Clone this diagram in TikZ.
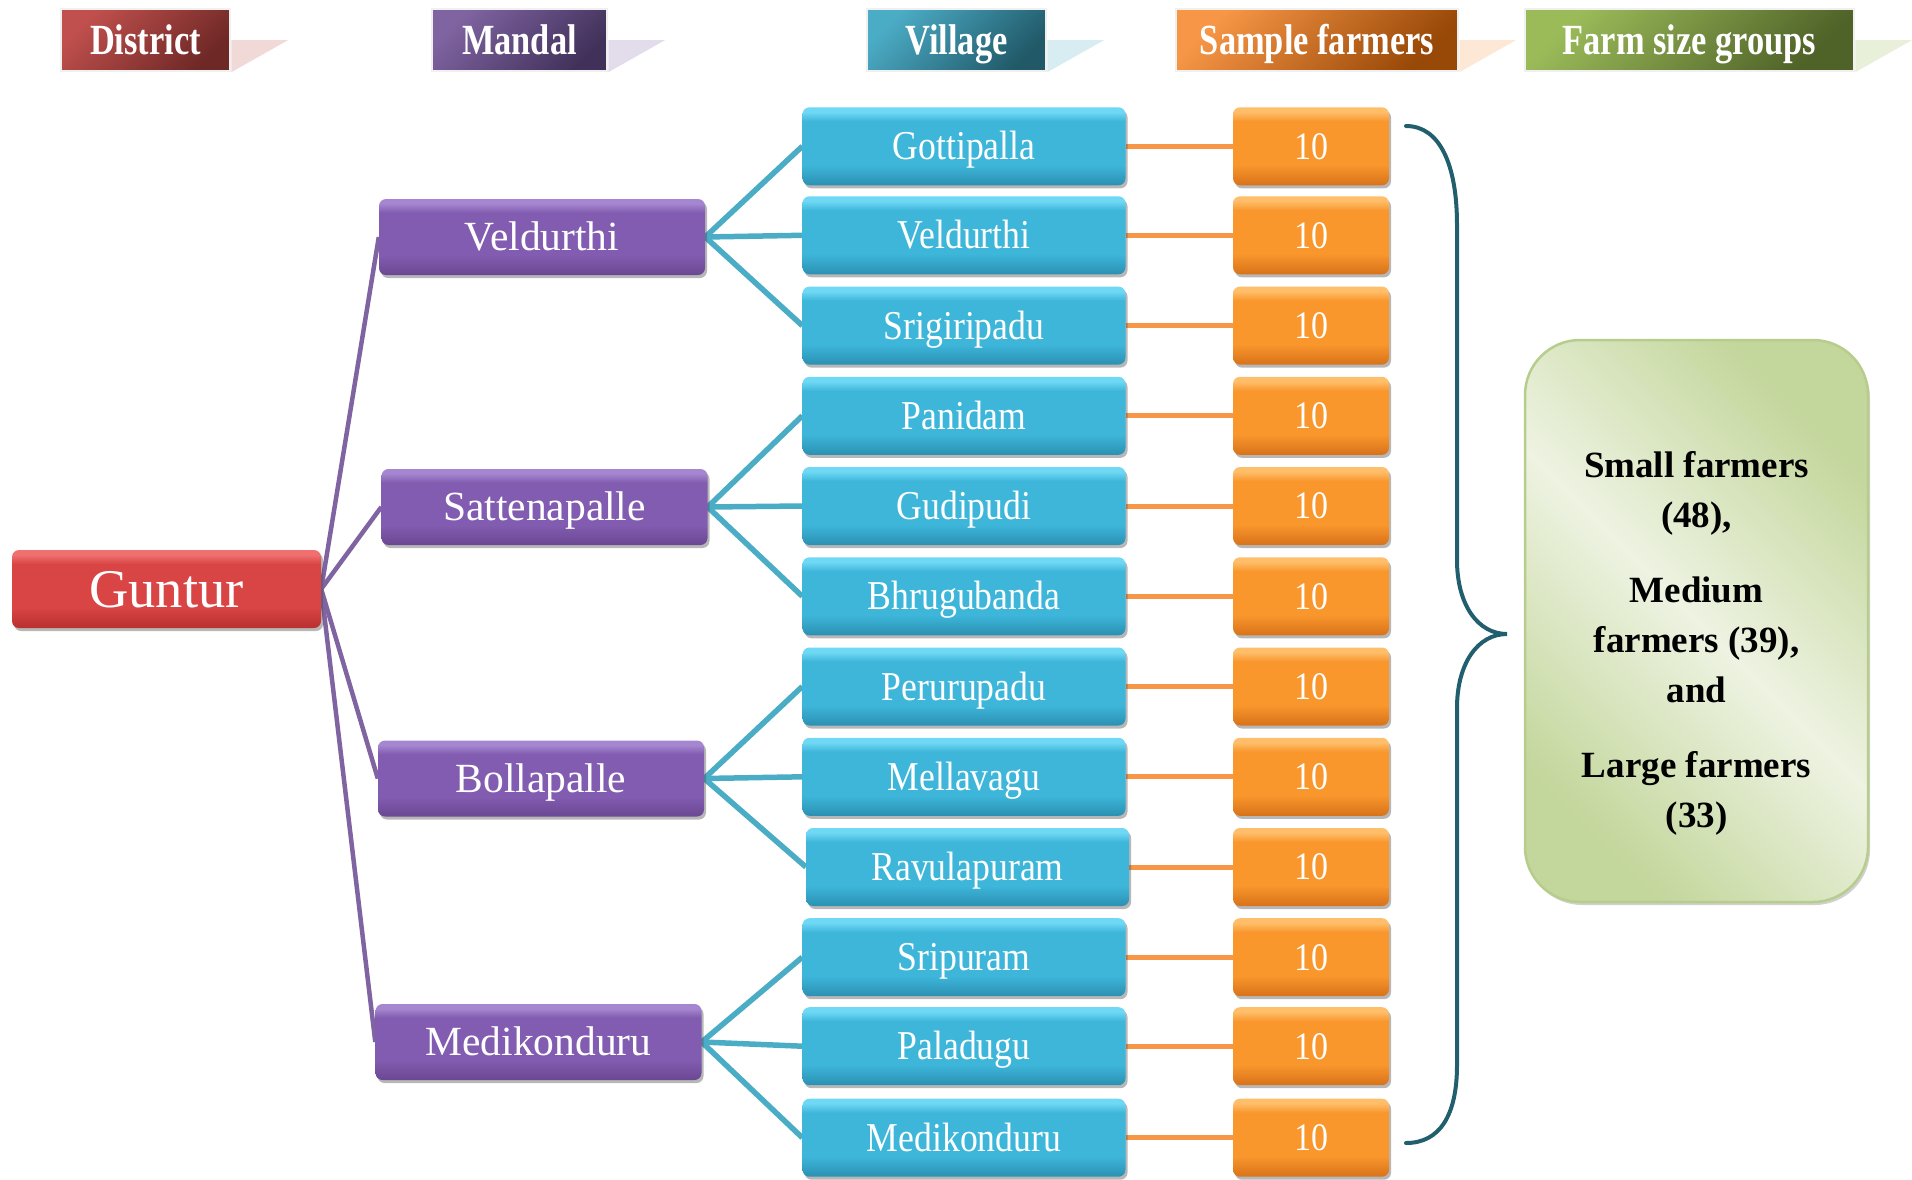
\documentclass[tikz,border=0pt]{standalone}
\usepackage{fontspec}
\setmainfont{Liberation Serif}
\newfontfamily\tallfont[FakeStretch=0.87]{Liberation Serif}
\newfontfamily\hdfont[FakeStretch=0.8]{Liberation Serif}
\usetikzlibrary{shadows,backgrounds,calc}
\definecolor{redT}{HTML}{F07070}\definecolor{redM}{HTML}{D94444}\definecolor{redB}{HTML}{B8302E}
\definecolor{purT}{HTML}{A586D0}\definecolor{purM}{HTML}{825CB0}\definecolor{purB}{HTML}{6A4792}
\definecolor{cyT}{HTML}{6FD8F4}\definecolor{cyM}{HTML}{3DB6DA}\definecolor{cyB}{HTML}{2B90B2}
\definecolor{orT}{HTML}{FFBE6A}\definecolor{orM}{HTML}{F9962C}\definecolor{orB}{HTML}{D8721A}
\definecolor{hRedA}{HTML}{C0504D}\definecolor{hRedB}{HTML}{6E2826}
\definecolor{hPurA}{HTML}{8064A2}\definecolor{hPurB}{HTML}{41315A}
\definecolor{hCyA}{HTML}{4BACC6}\definecolor{hCyB}{HTML}{215968}
\definecolor{hOrA}{HTML}{F79646}\definecolor{hOrB}{HTML}{984807}
\definecolor{hGrA}{HTML}{9BBB59}\definecolor{hGrB}{HTML}{4F6228}
\definecolor{gDark}{HTML}{C3D69B}\definecolor{gLight}{HTML}{EEF3E2}\definecolor{gEdge}{HTML}{B7CD8C}
\definecolor{lnPur}{HTML}{8064A2}\definecolor{lnCy}{HTML}{4BACC6}\definecolor{lnOr}{HTML}{F79646}
\definecolor{braceC}{HTML}{215F6E}
\newcommand\mkgloss[4]{\pgfdeclareverticalshading{#1}{100bp}{color(0bp)=(#4); color(25bp)=(#4); color(38bp)=(#3); color(66bp)=(#3); color(72bp)=(#2); color(75bp)=(#2); color(100bp)=(#2)}}
\mkgloss{glossRed}{redT}{redM}{redB}
\mkgloss{glossPur}{purT}{purM}{purB}
\mkgloss{glossCy}{cyT}{cyM}{cyB}
\mkgloss{glossOr}{orT}{orM}{orB}
\tikzset{
  glossy/.style={rounded corners=7pt, inner sep=0pt, text=white, shade, text depth=0pt,
    drop shadow={shadow xshift=2pt, shadow yshift=-3pt, opacity=0.4, fill=black!70}},
  distbox/.style={glossy, shading=glossRed, minimum width=309pt, minimum height=78pt,
    font=\fontsize{54.5}{60}\selectfont, text height=36pt},
  mandbox/.style={glossy, shading=glossPur, minimum width=326pt, minimum height=76pt,
    font=\fontsize{41.5}{46}\selectfont, text height=27.5pt},
  villbox/.style={glossy, shading=glossCy, minimum width=323pt, minimum height=78pt,
    font=\tallfont\fontsize{41}{46}\selectfont, text height=27pt},
  sampbox/.style={glossy, shading=glossOr, minimum width=156pt, minimum height=78pt,
    font=\tallfont\fontsize{39}{44}\selectfont, text height=25.8pt},
  headbox/.style={draw=black!6, line width=2.5pt, minimum height=62pt, inner sep=0pt, text=white,
    font=\hdfont\bfseries\fontsize{43}{48}\selectfont, text height=28.5pt, text depth=0pt},
  hdtri/.style={fill=#1!22},
  purline/.style={lnPur, line width=4.5pt},
  cyline/.style={lnCy, line width=5.5pt},
  orline/.style={lnOr, line width=5pt},
}
\begin{document}
\begin{tikzpicture}[x=1pt,y=-1pt]
\useasboundingbox (0,0) rectangle (1912,1179);
% headers
\node[headbox, top color=hRedA, bottom color=hRedB, shading angle=45, minimum width=169pt] (h1) at (145.5,40) {District};
\node[headbox, top color=hPurA, bottom color=hPurB, shading angle=45, minimum width=175pt] (h2) at (519.5,40) {Mandal};
\node[headbox, top color=hCyA, bottom color=hCyB, shading angle=45, minimum width=179pt] (h3) at (956.5,40) {Village};
\node[headbox, top color=hOrA, bottom color=hOrB, shading angle=45, minimum width=282pt] (h4) at (1317,40) {Sample farmers};
\node[headbox, top color=hGrA, bottom color=hGrB, shading angle=45, minimum width=329pt] (h5) at (1689.5,40) {Farm size groups};
\fill[hdtri=hRedA] (h1.east) -- ++(57,0) -- (h1.south east) -- cycle;
\fill[hdtri=hPurA] (h2.east) -- ++(57,0) -- (h2.south east) -- cycle;
\fill[hdtri=hCyA] (h3.east) -- ++(57,0) -- (h3.south east) -- cycle;
\fill[hdtri=hOrA] (h4.east) -- ++(57,0) -- (h4.south east) -- cycle;
\fill[hdtri=hGrA] (h5.east) -- ++(57,0) -- (h5.south east) -- cycle;
% district
\node[distbox] (g) at (166.5,589) {Guntur};
% mandals
\node[mandbox] (m1) at (542,237) {Veldurthi};
\node[mandbox] (m2) at (544.5,507) {Sattenapalle};
\node[mandbox] (m3) at (541,778.5) {Bollapalle};
\node[mandbox] (m4) at (538.5,1042) {Medikonduru};
% villages and samples
\foreach \i/\xx/\yy/\nm in {1/964/146.3/Gottipalla, 2/964/235.3/Veldurthi, 3/964/325.6/Srigiripadu,
  4/964/415.8/Panidam, 5/964/506/Gudipudi, 6/964/596.3/Bhrugubanda,
  7/964/686.5/Perurupadu, 8/964/776.8/Mellavagu, 9/967.6/867/Ravulapuram,
  10/964/957.2/Sripuram, 11/964/1046.2/Paladugu, 12/964/1137.7/Medikonduru}{
  \node[villbox] (v\i) at (\xx,\yy) {\nm};
  \node[sampbox] (s\i) at (1311,\yy) {10};
}
% farm size box
\node[rounded corners=55pt, draw=gEdge, line width=2.5pt, top color=gDark, bottom color=gDark, middle color=gLight,
  shading angle=-45, minimum width=343pt, minimum height=562pt,
  drop shadow={shadow xshift=2pt, shadow yshift=-3pt, opacity=0.3, fill=black!60}] (fs) at (1696.5,621) {};
\node[align=center, font=\bfseries\fontsize{37}{50}\selectfont, text=black] (fst) at (1696.5,643)
  {Small farmers\\(48),\\[25pt]Medium\\farmers (39),\\and\\[25pt]Large farmers\\(33)};
% connectors
\begin{scope}[on background layer]
\foreach \m in {1,2,3,4}{\draw[purline] (g.east) -- (m\m.west);}
\foreach \v in {1,2,3}{\draw[cyline] (m1.east) -- (v\v.west);}
\foreach \v in {4,5,6}{\draw[cyline] (m2.east) -- (v\v.west);}
\foreach \v in {7,8,9}{\draw[cyline] (m3.east) -- (v\v.west);}
\foreach \v in {10,11,12}{\draw[cyline] (m4.east) -- (v\v.west);}
\foreach \v in {1,...,12}{\draw[orline] (v\v.east) -- (s\v.west);}
\end{scope}
% brace
\coordinate (bt) at (1406,126);
\coordinate (bp) at (1507,634);
\coordinate (bb) at (1406,1143);
\draw[braceC, line width=4pt, line cap=round]
  (bt) .. controls (1440,126) and (1457,165) .. (1457,225) -- (1457,560)
  .. controls (1457,605) and (1478,634) .. (bp)
  .. controls (1478,634) and (1457,663) .. (1457,708) -- (1457,1065)
  .. controls (1457,1115) and (1440,1143) .. (bb);
\end{tikzpicture}
\end{document}
